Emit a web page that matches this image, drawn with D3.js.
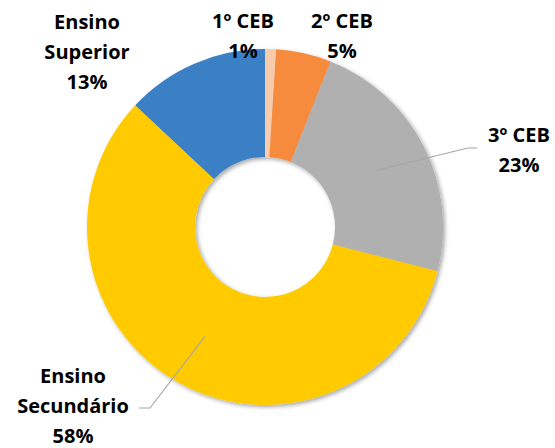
<!DOCTYPE html>
<html>
<head>
<meta charset="utf-8">
<script src="https://cdn.jsdelivr.net/npm/d3@7/dist/d3.min.js"></script>
<style>
  html, body { margin: 0; padding: 0; background: #fff; }
  svg { display: block; }
  text { font-family: "Open Sans", "Liberation Sans", sans-serif; font-weight: 700; fill: #000; }
</style>
</head>
<body>
<svg id="chart" width="555" height="448"></svg>
<script>
// Distribuição por nível de escolaridade
const categories = ["1º CEB", "2º CEB", "3º CEB", "Ensino Secundário", "Ensino Superior"];
const values = [1, 5, 23, 58, 13];
const colors = ["#F8CBAD", "#F78B3C", "#B0B0B0", "#FFCB05", "#3B7FC4"];

// Label lines (text split across rows) and their anchor points
const labelLines = [
  ["1º CEB", "1%"],
  ["2º CEB", "5%"],
  ["3º CEB", "23%"],
  ["Ensino", "Secundário", "58%"],
  ["Ensino", "Superior", "13%"]
];
const labelPos = [
  [243, 28], [342, 28], [519, 142], [73, 383], [87, 29]
];
const lineGap = 30;

const svg = d3.select("#chart");
const cx = 265, cy = 227, outerR = 178, innerR = 70;

const defs = svg.append("defs");
const f = defs.append("filter").attr("id", "shadow")
  .attr("x", "-10%").attr("y", "-10%").attr("width", "120%").attr("height", "120%");
f.append("feDropShadow").attr("dx", 2).attr("dy", 2).attr("stdDeviation", 2)
  .attr("flood-color", "#000").attr("flood-opacity", 0.35);

const pie = d3.pie().sort(null).value(d => d)(values);
const arc = d3.arc().innerRadius(innerR).outerRadius(outerR);

const g = svg.append("g").attr("transform", `translate(${cx},${cy})`)
  .attr("filter", "url(#shadow)");
g.selectAll("path").data(pie).join("path")
  .attr("d", arc)
  .attr("fill", (d, i) => colors[i]);

// Leader lines for labels placed away from their slice
const leader = d3.line();
const midPoint = (i, r) => {
  const a = (pie[i].startAngle + pie[i].endAngle) / 2;
  return [cx + r * Math.sin(a), cy - r * Math.cos(a)];
};
const leaders = [
  { i: 2, pts: [midPoint(2, 125), [468, 148], [477, 148]] },
  { i: 3, pts: [midPoint(3, 125), [150, 408], [139, 408]] }
];
svg.selectAll("path.leader").data(leaders).join("path")
  .attr("class", "leader")
  .attr("d", d => leader(d.pts))
  .attr("fill", "none")
  .attr("stroke", "#A6A6A6")
  .attr("stroke-width", 1.2);

const labels = svg.selectAll("g.label").data(labelLines).join("g")
  .attr("class", "label")
  .attr("transform", (d, i) => `translate(${labelPos[i][0]},${labelPos[i][1]})`);
labels.selectAll("text").data(d => d).join("text")
  .attr("y", (d, j) => j * lineGap)
  .attr("text-anchor", "middle")
  .attr("font-size", 20)
  .text(d => d);
</script>
</body>
</html>
